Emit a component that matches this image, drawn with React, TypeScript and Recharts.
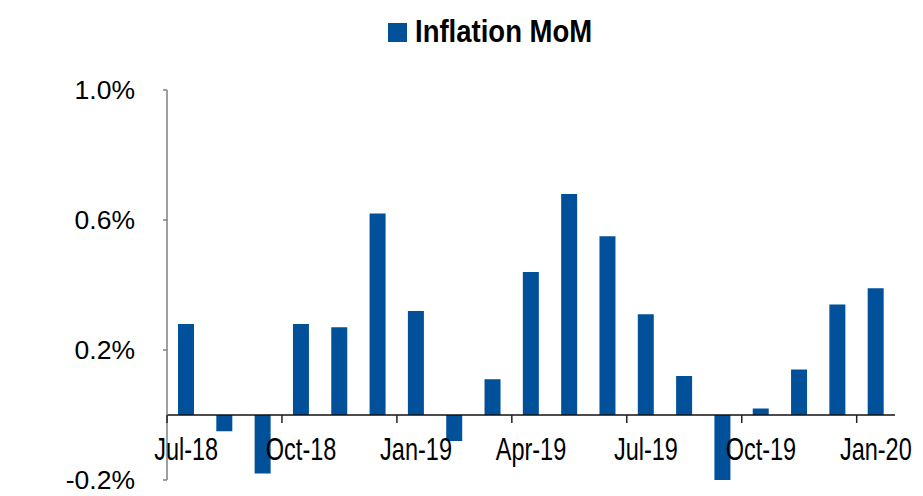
import { BarChart, Bar, XAxis, YAxis, ReferenceLine, Legend } from 'recharts'

const months = [
  'Jul-18', 'Aug-18', 'Sep-18', 'Oct-18', 'Nov-18', 'Dec-18', 'Jan-19', 'Feb-19', 'Mar-19', 'Apr-19',
  'May-19', 'Jun-19', 'Jul-19', 'Aug-19', 'Sep-19', 'Oct-19', 'Nov-19', 'Dec-19', 'Jan-20'
]
const inflationMoM = [
  0.28, -0.05, -0.18, 0.28, 0.27, 0.62, 0.32, -0.08, 0.11, 0.44,
  0.68, 0.55, 0.31, 0.12, -0.21, 0.02, 0.14, 0.34, 0.39
]
const yTicks = [-0.2, 0.2, 0.6, 1.0]

const data = months.map((month, i) => ({ month, value: inflationMoM[i] }))

const BLUE = '#00509A'
const FONT = '"Liberation Sans", Arial, sans-serif'

const WIDTH = 923
const HEIGHT = 496
const MARGIN = { top: 90, right: 28, bottom: 15, left: 0 }
const Y_MIN = -0.2
const Y_MAX = 1.0
const PLOT_H = HEIGHT - MARGIN.top - MARGIN.bottom - 1
const ZERO_Y = MARGIN.top + (Y_MAX / (Y_MAX - Y_MIN)) * PLOT_H
const BAND = (WIDTH - 167 - MARGIN.right) / months.length

// x labels sit under the zero line, ticks on category boundaries every 3 months
function ZeroTick(props: any) {
  const { x, payload } = props
  if (payload.index % 3 !== 0) return null
  const left = x - BAND / 2
  const base = ZERO_Y + 45.5
  return (
    <g>
      <line x1={left} x2={left} y1={ZERO_Y} y2={ZERO_Y + 8} stroke="#222" strokeWidth={1.5} />
      <text
        x={x}
        y={base}
        textAnchor="middle"
        fontSize={23.5}
        fontFamily={FONT}
        fill="#000"
        transform={`translate(0 ${base}) scale(1 1.3) translate(0 ${-base})`}
      >
        {payload.value}
      </text>
    </g>
  )
}

function LegendContent() {
  return (
    <div style={{ display: 'flex', alignItems: 'center', fontFamily: FONT }}>
      <span style={{ width: 19, height: 19, background: BLUE, display: 'inline-block', marginRight: 8 }} />
      <span
        style={{
          fontSize: 27.5,
          fontWeight: 'bold',
          color: '#000',
          lineHeight: '30px',
          display: 'inline-block',
          transform: 'scaleY(1.12)'
        }}
      >
        Inflation MoM
      </span>
    </div>
  )
}

export default function App() {
  return (
    <div style={{ position: 'absolute', left: 0, top: 0, background: '#fff' }}>
      <BarChart width={WIDTH} height={HEIGHT} data={data} margin={MARGIN}>
        <XAxis
          dataKey="month"
          axisLine={false}
          tickLine={false}
          interval={0}
          height={1}
          tick={<ZeroTick />}
        />
        <YAxis
          width={167}
          domain={[Y_MIN, Y_MAX]}
          ticks={yTicks}
          allowDataOverflow
          tickFormatter={(v: number) => `${v.toFixed(1)}%`}
          axisLine={{ stroke: '#808080', strokeWidth: 1.5 }}
          tickLine={{ stroke: '#808080', strokeWidth: 1.5 }}
          tickSize={4}
          tickMargin={28}
          tick={{ fontSize: 26.5, fill: '#000', fontFamily: FONT }}
        />
        <Legend
          verticalAlign="middle"
          layout="horizontal"
          content={<LegendContent />}
          wrapperStyle={{ position: 'absolute', top: 17, left: 388, width: 'auto' }}
        />
        <ReferenceLine y={0} stroke="#111" strokeWidth={1.5} />
        <Bar dataKey="value" name="Inflation MoM" fill={BLUE} barSize={16} isAnimationActive={false} />
      </BarChart>
    </div>
  )
}
